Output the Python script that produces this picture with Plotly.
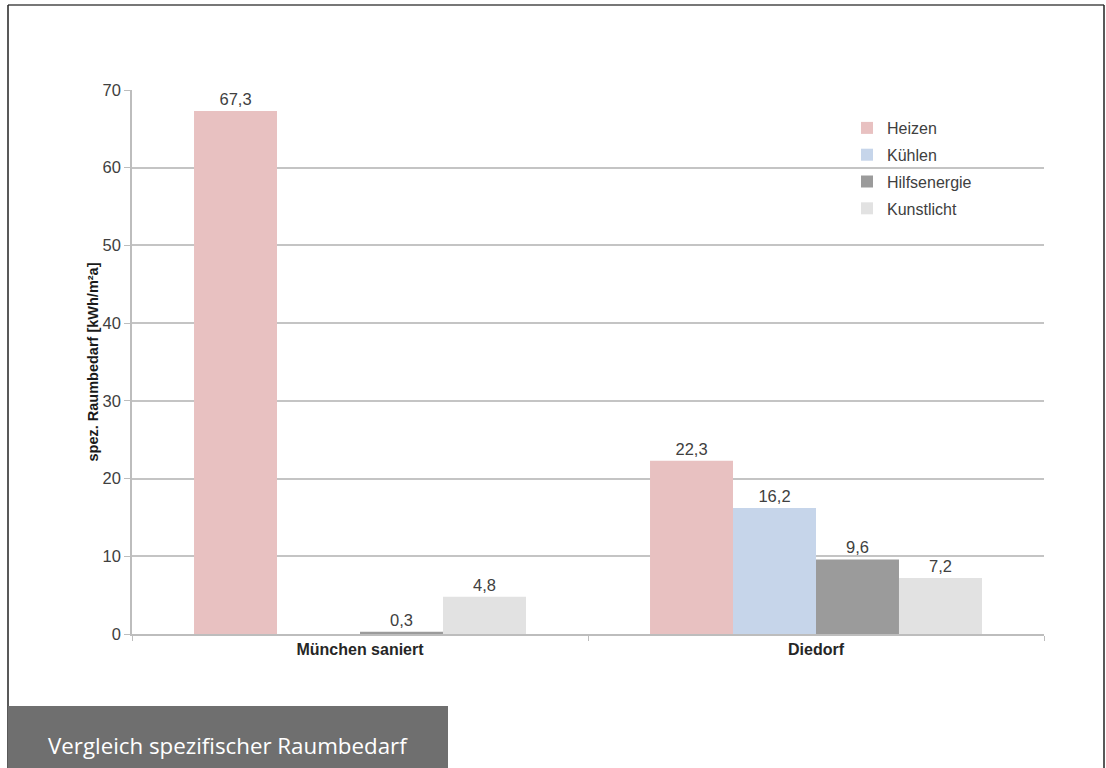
import plotly.graph_objects as go

categories = ["München saniert", "Diedorf"]
heizen = [67.3, 22.3]
kuehlen = [None, 16.2]
hilfsenergie = [0.3, 9.6]
kunstlicht = [4.8, 7.2]
series_names = ["Heizen", "Kühlen", "Hilfsenergie", "Kunstlicht"]
colors = ["#e8c1c1", "#c6d5ea", "#9b9b9b", "#e2e2e2"]
y_ticks = [0, 10, 20, 30, 40, 50, 60, 70]

W, H = 1106, 768
L, R, T, B = 132, 62, 90, 134
PW, PH = W - L - R, H - T - B


def px_x(x):
    return (x - L) / PW


def px_y(y):
    return 1 - (y - T) / PH


txt = "#404040"
fig = go.Figure()
for i, (name, vals) in enumerate(zip(series_names, [heizen, kuehlen, hilfsenergie, kunstlicht])):
    fig.add_trace(go.Bar(
        x=categories, y=vals, name=name, marker=dict(color=colors[i], line=dict(width=0)),
        texttemplate="%{y:.1f}", textposition="outside",
        textfont=dict(size=16.5, color=txt, family="Liberation Sans, Arial"),
        cliponaxis=False, legendgroup=name,
    ))

fig.update_layout(
    width=W, height=H, barmode="group", bargap=0.272, bargroupgap=0,
    separators=",.",
    margin=dict(l=L, r=R, t=T, b=B, autoexpand=False),
    paper_bgcolor="white", plot_bgcolor="white",
    font=dict(family="Liberation Sans, Arial", size=16, color=txt),
    legend=dict(x=px_x(847), y=px_y(111), xanchor="left", yanchor="top",
                bgcolor="rgba(0,0,0,0)", font=dict(size=16, color=txt),
                tracegroupgap=3, itemwidth=30),
    xaxis=dict(showline=True, linecolor="#bdbdbd", linewidth=1.5, ticks="outside",
               tickson="boundaries", ticklen=5, tickcolor="#bdbdbd",
               tickfont=dict(size=16, color="#262626", family="Liberation Sans, Arial", weight="bold")),
    yaxis=dict(range=[0, 70], tickvals=y_ticks, showgrid=True, gridcolor="#c4c4c4", gridwidth=1.5,
               showline=True, linecolor="#bdbdbd", linewidth=1.5, ticks="outside", ticklen=6,
               tickcolor="#bdbdbd", zeroline=False,
               tickfont=dict(size=16.5, color=txt),
               title=dict(text="spez. Raumbedarf [kWh/m²a]", standoff=1,
                          font=dict(size=14.5, color="#1a1a1a", weight="bold"))),
    shapes=[
        dict(type="line", xref="paper", yref="paper", x0=px_x(8), x1=px_x(1104), y0=px_y(5), y1=px_y(5),
             line=dict(color="#777777", width=2)),
        dict(type="line", xref="paper", yref="paper", x0=px_x(8), x1=px_x(8), y0=px_y(5), y1=px_y(768),
             line=dict(color="#222222", width=1.5)),
        dict(type="line", xref="paper", yref="paper", x0=px_x(1104), x1=px_x(1104), y0=px_y(5), y1=px_y(768),
             line=dict(color="#222222", width=1.5)),
        dict(type="rect", xref="paper", yref="paper", x0=px_x(8), x1=px_x(448), y0=px_y(768), y1=px_y(706),
             fillcolor="#6f6f6f", line=dict(width=0)),
    ],
    annotations=[
        dict(text="Vergleich spezifischer Raumbedarf", xref="paper", yref="paper",
             x=px_x(228), y=px_y(745), showarrow=False, xanchor="center", yanchor="middle",
             font=dict(family="Open Sans", size=22.3, color="white")),
    ],
)

fig.write_html("out.html")
